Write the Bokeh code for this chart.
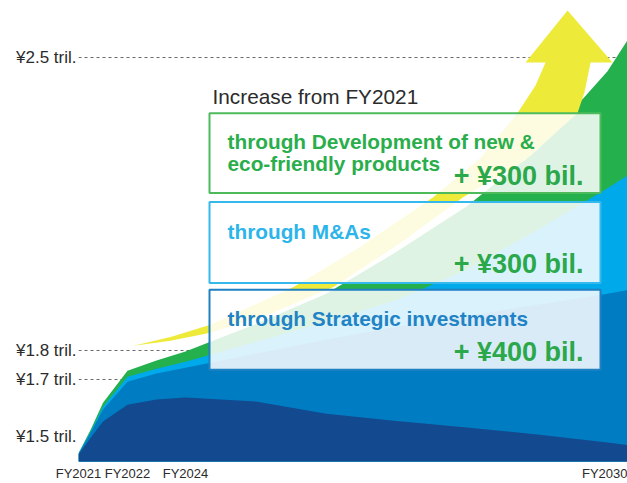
import numpy as np
from bokeh.plotting import figure
from bokeh.models import Range1d, FixedTicker, BoxAnnotation, Label
from bokeh.embed import file_html
from bokeh.resources import INLINE

# ---------------- data (fiscal year, revenue in ¥ trillion) ----------------
years = [2021, 2021.25, 2021.5, 2022, 2023, 2024, 2025, 2026, 2027, 2028, 2029, 2030, 2030.3]
base_business = [1.437, 1.496, 1.553, 1.612, 1.630, 1.637, 1.623, 1.580, 1.555, 1.532, 1.507, 1.479, 1.470]
plus_strategic = [1.439, 1.514, 1.595, 1.693, 1.721, 1.741, 1.790, 1.826, 1.857, 1.883, 1.910, 1.936, 1.945]
plus_mna = [1.440, 1.518, 1.605, 1.710, 1.738, 1.762, 1.821, 1.869, 1.921, 1.993, 2.088, 2.188, 2.220]
plus_new_products = [1.441, 1.525, 1.619, 1.731, 1.766, 1.797, 1.864, 1.936, 2.036, 2.145, 2.279, 2.467, 2.545]

# growth arrow outline (fiscal year, ¥ trillion)
arrow_years = [2022.207, 2023.483, 2024.355, 2025.536, 2026.488, 2027.526, 2028.194, 2028.721,
               2028.977, 2029.119, 2028.834, 2029.432, 2030.071, 2029.759, 2029.673, 2029.574,
               2028.834, 2027.953, 2027.057, 2026.104, 2025.209, 2024.355, 2023.483]
arrow_values = [1.812, 1.833, 1.862, 1.952, 2.048, 2.167, 2.260, 2.367,
                2.433, 2.488, 2.488, 2.612, 2.488, 2.488, 2.417, 2.367,
                2.255, 2.167, 2.057, 1.952, 1.888, 1.843, 1.824]

y_tick_values = [1.5, 1.7, 1.8, 2.5]
y_tick_labels = ["¥1.5 tril.", "¥1.7 tril.", "¥1.8 tril.", "¥2.5 tril."]
grid_values = [1.7, 1.8, 2.5]
x_tick_years = [2021, 2022, 2024, 2030]
x_tick_labels = ["FY2021", "FY2022", "FY2024", "FY2030"]

heading = "Increase from FY2021"
box_titles = [["through Development of new &", "eco-friendly products"],
              ["through M&As"],
              ["through Strategic investments"]]
box_amounts = ["+ ¥300 bil.", "+ ¥300 bil.", "+ ¥400 bil."]

# ---------------- broken (piecewise) scales of the infographic ----------------
X_KNOT_YEARS = [2021, 2022, 2024, 2030, 2031]
X_KNOT_POS = [78, 127, 185, 607, 677.3]
Y_KNOT_VALS = [1.3, 1.5, 1.7, 1.8, 2.5, 2.8]
Y_KNOT_POS = [494, 437, 380, 351, 57, -69]


def fx(v):
    return np.interp(np.asarray(v, dtype=float), X_KNOT_YEARS, X_KNOT_POS)


def fy(v):
    return -np.interp(np.asarray(v, dtype=float), Y_KNOT_VALS, Y_KNOT_POS)


BASELINE = 1.35

NAVY = "#12498f"
BLUE = "#007cc2"
CYAN = "#00a9e9"
GREEN = "#24b04c"
YELLOW = "#eeea3a"
TXT = "#2b2b2b"
FONT = "Liberation Sans"

p = figure(width=627, height=483, x_range=Range1d(78, 627), y_range=Range1d(-462, 0),
           output_backend="svg", toolbar_location=None,
           min_border_left=78, min_border_right=0, min_border_top=0, min_border_bottom=21)
p.outline_line_color = None
p.background_fill_color = "white"

xs = fx(years)
base = fy([BASELINE] * len(years))
p.varea(x=xs, y1=base, y2=fy(plus_new_products), fill_color=GREEN)
p.varea(x=xs, y1=base, y2=fy(plus_mna), fill_color=CYAN)
p.varea(x=xs, y1=base, y2=fy(plus_strategic), fill_color=BLUE)
p.varea(x=xs, y1=base, y2=fy(base_business), fill_color=NAVY)

p.patch(x=fx(arrow_years), y=fy(arrow_values), fill_color=YELLOW, line_color=None)

# axes
ytp = [int(round(float(fy(v)))) for v in y_tick_values]
p.yaxis.ticker = FixedTicker(ticks=ytp)
p.yaxis.major_label_overrides = {t: l for t, l in zip(ytp, y_tick_labels)}
p.yaxis.axis_label = None
p.yaxis.axis_line_color = None
p.yaxis.major_tick_line_color = None
p.yaxis.minor_tick_line_color = None
p.yaxis.major_tick_out = 0
p.yaxis.major_tick_in = 0
p.yaxis.major_label_standoff = 2
p.yaxis.major_label_text_font = FONT
p.yaxis.major_label_text_font_size = "17px"
p.yaxis.major_label_text_color = TXT

xtp = [int(round(float(fx(v)))) for v in x_tick_years]
p.xaxis.ticker = FixedTicker(ticks=xtp)
p.xaxis.major_label_overrides = {t: l for t, l in zip(xtp, x_tick_labels)}
p.xaxis.axis_label = None
p.xaxis.axis_line_color = None
p.xaxis.major_tick_line_color = None
p.xaxis.minor_tick_line_color = None
p.xaxis.major_tick_out = 0
p.xaxis.major_tick_in = 0
p.xaxis.major_label_standoff = 4
p.xaxis.major_label_text_font = FONT
p.xaxis.major_label_text_font_size = "13px"
p.xaxis.major_label_text_line_height = 1.0
p.xaxis.major_label_text_color = TXT

p.xgrid.visible = False
p.ygrid.ticker = FixedTicker(ticks=[int(round(float(fy(v)))) for v in grid_values])
p.ygrid.grid_line_color = "#6a6a6a"
p.ygrid.grid_line_dash = "3 3"
p.ygrid.grid_line_width = 1

# heading
p.add_layout(Label(x=212, y=-96, text=heading, text_font=FONT, text_font_size="20.8px",
                   text_color=TXT, text_baseline="alphabetic"))

# boxes
box_geo = [(113, 193), (202, 283), (290, 370)]
box_line = ["#4dbb5c", "#35b8ec", "#1f80c2"]
title_color = ["#2aae4c", "#2db5ea", "#1f83c5"]
title_baselines = [[141, 163], [232], [319]]
amount_baselines = [176, 264, 352]
for i in range(3):
    top, bottom = box_geo[i]
    p.add_layout(BoxAnnotation(left=209, right=600, top=-top, bottom=-bottom,
                               fill_color="white", fill_alpha=0.85,
                               line_color=box_line[i], line_width=2, line_alpha=1.0))
    for t, yb in zip(box_titles[i], title_baselines[i]):
        p.add_layout(Label(x=227, y=-yb, text=t, text_font=FONT, text_font_size="20.8px",
                           text_font_style="bold", text_color=title_color[i],
                           text_baseline="alphabetic"))
    p.add_layout(Label(x=583, y=-amount_baselines[i], text=box_amounts[i], text_font=FONT,
                       text_font_size="27px", text_font_style="bold", text_color="#2aa84a",
                       text_align="right", text_baseline="alphabetic"))

open("out.html", "w").write(file_html(p, INLINE))
